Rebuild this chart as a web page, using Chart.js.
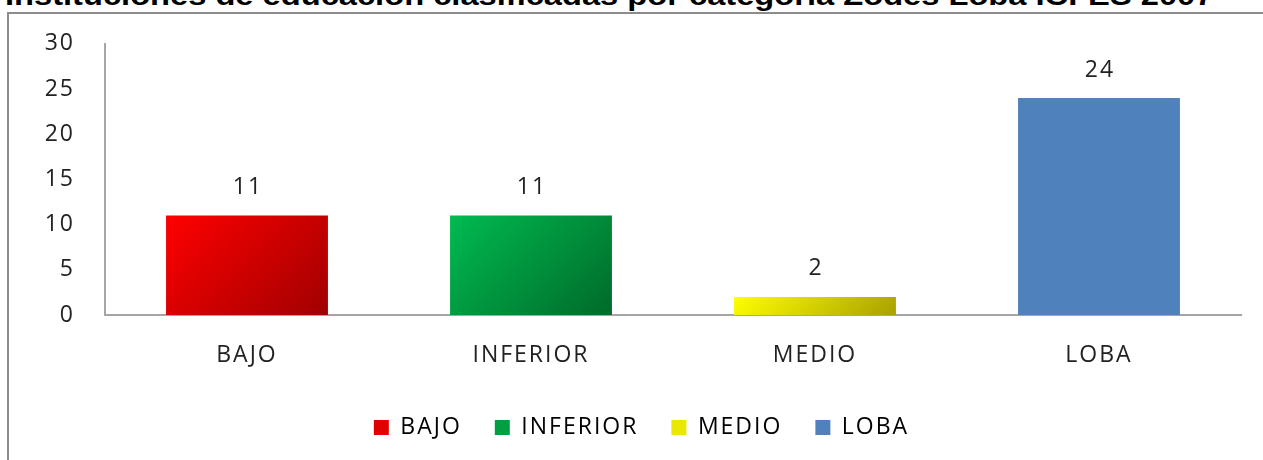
<!DOCTYPE html>
<html>
<head>
<meta charset="utf-8">
<script src="https://cdn.jsdelivr.net/npm/chart.js@4"></script>
<style>
  html, body { margin: 0; padding: 0; background: #fff; }
  body { width: 1263px; height: 460px; position: relative; overflow: hidden; }
  #title {
    position: absolute; left: 5px; top: -17px; white-space: nowrap; transform-origin: 0 0;
    font: bold 27px "Liberation Sans", Arial, sans-serif; line-height: 27px; color: #000;
  }
  #frame {
    position: absolute; left: 7px; top: 12px; width: 1400px; height: 600px;
    border-left: 2px solid #8c8c8c; border-top: 2px solid #8c8c8c;
  }
  #wrap { position: absolute; left: 0; top: 0; width: 1263px; height: 460px; }
</style>
</head>
<body>
<div id="title">Instituciones de educación clasificadas por categoría Zodes Loba ICFES 2007</div>
<div id="frame"></div>
<div id="wrap"><canvas id="chart" width="1263" height="460"></canvas></div>
<script>
const categories = ['BAJO', 'INFERIOR', 'MEDIO', 'LOBA'];
const values = [11, 11, 2, 24];
const yTicks = [0, 5, 10, 15, 20, 25, 30];

const lightColors = ['#ff0000', '#00bb50', '#ffff00', '#4f81bd'];
const darkColors = ['#a00000', '#006a2a', '#a8a000', '#4f81bd'];
const legendColors = ['#e00000', '#00a040', '#e8e800', '#4f81bd'];

const font = '"Open Sans", "DejaVu Sans", sans-serif';
const barPct = 0.57;

// stretch the title to the width it has in the picture
const title = document.getElementById('title');
title.style.transform = 'scaleX(' + (1208 / title.scrollWidth) + ')';

// bar fill: 45 degree gradient, light top-left to dark bottom-right
function barFill(context) {
    const i = context.dataIndex;
    const { x, y } = context.chart.scales;
    if (!x || !y) return lightColors[i];
    const cx = x.getPixelForValue(i);
    const half = x.width / categories.length * barPct / 2;
    const top = y.getPixelForValue(values[i]);
    const base = y.getPixelForValue(0);
    if (![cx, half, top, base].every(Number.isFinite)) return lightColors[i];
    const d = (2 * half + (base - top)) / 2;
    const g = context.chart.ctx.createLinearGradient(cx - half, top, cx - half + d, top + d);
    g.addColorStop(0, lightColors[i]);
    g.addColorStop(1, darkColors[i]);
    return g;
}

const spacing = {
    id: 'spacing',
    beforeInit(chart) { chart.ctx.letterSpacing = '2px'; },
    beforeDraw(chart) { chart.ctx.letterSpacing = '2px'; }
};

const valueLabels = {
    id: 'valueLabels',
    afterDatasetsDraw(chart) {
        const ctx = chart.ctx;
        ctx.save();
        ctx.letterSpacing = '2px';
        ctx.font = '23px ' + font;
        ctx.fillStyle = '#222';
        ctx.textAlign = 'center';
        ctx.textBaseline = 'middle';
        chart.getDatasetMeta(0).data.forEach((bar, i) => {
            ctx.fillText(String(values[i]), bar.x + 1, bar.y - 28);
        });
        ctx.restore();
    }
};

const ctx = document.getElementById('chart').getContext('2d');
const chart = new Chart(ctx, {
    type: 'bar',
    data: {
        labels: categories,
        datasets: [{
            data: values,
            backgroundColor: barFill,
            categoryPercentage: 1,
            barPercentage: barPct,
            borderWidth: 0
        }]
    },
    options: {
        responsive: false,
        animation: false,
        layout: { padding: { left: 0, right: 22, top: 43, bottom: 11 } },
        plugins: {
            tooltip: { enabled: false },
            legend: {
                position: 'bottom',
                labels: {
                    boxWidth: 15,
                    boxHeight: 15,
                    padding: 33,
                    color: '#222',
                    font: { family: font, size: 23 },
                    generateLabels: () => categories.map((c, i) => ({
                        text: c,
                        fillStyle: legendColors[i],
                        strokeStyle: legendColors[i],
                        lineWidth: 0,
                        index: i
                    }))
                }
            }
        },
        scales: {
            x: {
                grid: { display: false, drawTicks: false },
                border: { display: true, color: '#a6a6a6', width: 2 },
                ticks: { color: '#222', padding: 27, font: { family: font, size: 23 } },
                afterFit(scale) { scale.height = 68; }
            },
            y: {
                min: 0,
                max: 30,
                grid: { display: false, drawTicks: false },
                border: { display: true, color: '#a6a6a6', width: 2 },
                afterBuildTicks(scale) { scale.ticks = yTicks.map(v => ({ value: v })); },
                ticks: { color: '#222', padding: 30, font: { family: font, size: 23 } },
                afterFit(scale) { scale.width = 105; }
            }
        }
    },
    plugins: [spacing, valueLabels]
});
</script>
</body>
</html>
